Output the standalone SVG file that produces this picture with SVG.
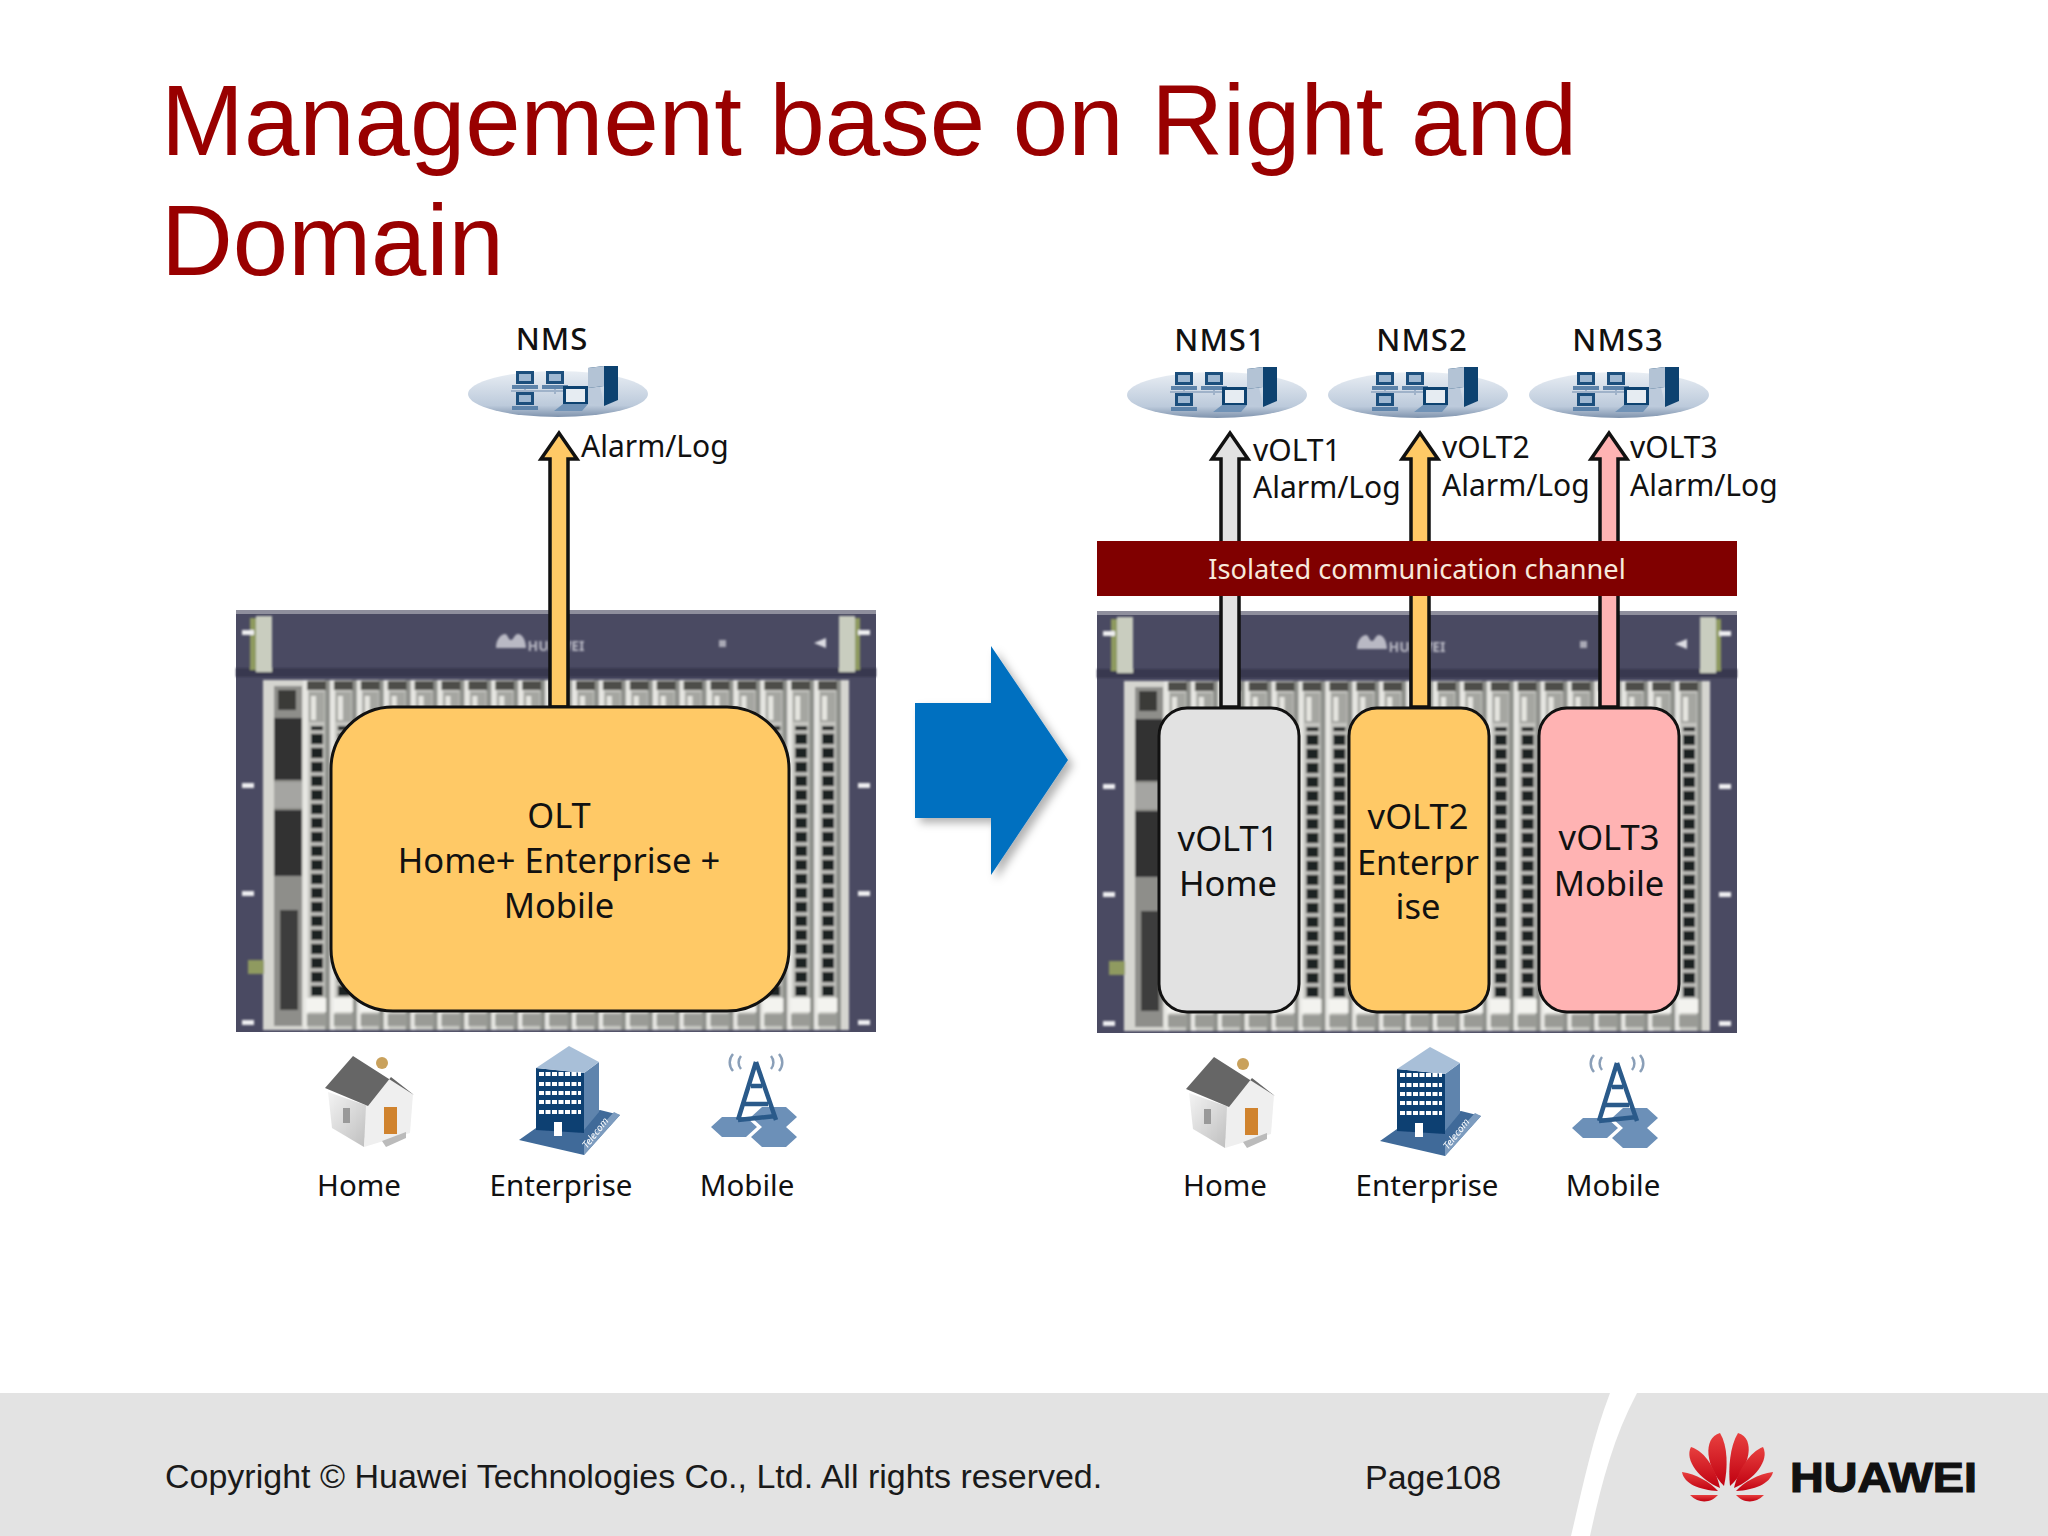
<svg xmlns="http://www.w3.org/2000/svg" xmlns:xlink="http://www.w3.org/1999/xlink" width="2048" height="1536" viewBox="0 0 2048 1536">
<style>
text{font-family:"Noto Sans","Open Sans","DejaVu Sans",sans-serif;fill:#111}
.title{font-family:"Liberation Sans",Arial,sans-serif;font-size:99.5px;fill:#990000}
.foot{font-family:"Liberation Sans",Arial,sans-serif;font-size:34px;fill:#1a1a1a}
.lbl{font-size:30px}
.nms{font-size:31px;font-weight:500;text-anchor:middle;letter-spacing:1px}
.cap{font-size:29.5px;text-anchor:middle}
.box{font-size:34.5px;text-anchor:middle}
.ar{stroke:#111;stroke-width:3.5;stroke-linejoin:miter}
.vbox{stroke:#111;stroke-width:3}
.org{fill:#FFC966}.gry{fill:#E2E2E2}.pnk{fill:#FFB3B3}
</style>
<defs>
<filter id="soft" x="-5%" y="-5%" width="110%" height="110%"><feGaussianBlur stdDeviation="1.3"/></filter>
<filter id="soft2" x="-10%" y="-10%" width="120%" height="120%"><feGaussianBlur stdDeviation="0.5"/></filter>
<filter id="shadow" x="-10%" y="-10%" width="130%" height="130%"><feDropShadow dx="5" dy="5" stdDeviation="4" flood-color="#000" flood-opacity="0.3"/></filter>
<linearGradient id="disc" x1="0" y1="0" x2="0" y2="1"><stop offset="0" stop-color="#e9eef4"/><stop offset="0.75" stop-color="#bccadb"/><stop offset="1" stop-color="#7f93ad"/></linearGradient>
<linearGradient id="petal" x1="0" y1="0" x2="0" y2="1"><stop offset="0" stop-color="#e8403f"/><stop offset="1" stop-color="#c00010"/></linearGradient>
<linearGradient id="wall" x1="0" y1="0" x2="1" y2="1"><stop offset="0" stop-color="#f4f4f4"/><stop offset="1" stop-color="#bdbdbd"/></linearGradient>
<pattern id="cards" width="26.9" height="350" patternUnits="userSpaceOnUse" x="67" y="70">
<rect width="26.9" height="350" fill="#c4c5c0"/>
<rect x="0" y="0" width="5" height="350" fill="#e6e6e2"/>
<rect x="22" y="0" width="5" height="350" fill="#8f918c"/>
<rect x="4" y="1" width="19" height="9" fill="#4d4e48"/>
<rect x="6" y="12" width="15" height="30" fill="#a5a6a1"/>
<rect x="8" y="16" width="5" height="24" fill="#e5e5e0"/>
<rect x="3" y="318" width="20" height="14" fill="#f3f3ef"/>
<rect x="4" y="334" width="19" height="12" fill="#9a9b96"/>
<rect x="8" y="46" width="12" height="270" fill="#1f2020"/>
<path d="M6 52H22M6 66H22M6 80H22M6 94H22M6 108H22M6 122H22M6 136H22M6 150H22M6 164H22M6 178H22M6 192H22M6 206H22M6 220H22M6 234H22M6 248H22M6 262H22M6 276H22M6 290H22M6 304H22" stroke="#c4c4bf" stroke-width="3.5"/>
</pattern>
<g id="chassis">
<rect width="640" height="422" fill="#4a4a62"/>
<rect x="0" y="0" width="640" height="4" fill="#8f8f9d"/>
<g filter="url(#soft)">
<rect y="58" width="640" height="9" fill="#383850"/>
<rect x="20" y="6" width="16" height="56" fill="#c9cdbf"/><rect x="14" y="8" width="6" height="52" fill="#8e9a5e"/>
<rect x="603" y="6" width="16" height="56" fill="#c9cdbf"/><rect x="619" y="8" width="5" height="52" fill="#8e9a5e"/>
<rect x="27" y="70" width="586" height="350" fill="#d5d5d0"/>
<rect x="67" y="70" width="538" height="350" fill="url(#cards)"/>
<rect x="38" y="76" width="28" height="340" fill="#8e8e8a"/>
<rect x="42" y="80" width="18" height="20" fill="#3a3a38"/>
<rect x="38" y="108" width="28" height="62" fill="#333"/>
<rect x="38" y="200" width="28" height="66" fill="#333"/>
<rect x="38" y="172" width="28" height="26" fill="#a5a5a2"/>
<rect x="44" y="300" width="18" height="100" fill="#3c3c3c"/>
<rect x="12" y="350" width="16" height="14" fill="#8f9a60"/>
<g fill="#eeeef0"><rect x="6" y="20" width="12" height="5"/><rect x="6" y="173" width="12" height="5"/><rect x="6" y="281" width="12" height="5"/><rect x="6" y="410" width="12" height="5"/><rect x="622" y="20" width="12" height="5"/><rect x="622" y="173" width="12" height="5"/><rect x="622" y="281" width="12" height="5"/><rect x="622" y="410" width="12" height="5"/></g>
<text x="320" y="41" font-size="14" font-weight="700" text-anchor="middle" style="fill:#b9b9c4">HUAWEI</text>
<path d="M260 38c0-10 6-14 9-14s3 6 6 6 3-6 7-6 8 6 8 14z" fill="#b9b9c4"/>
<rect x="483" y="30" width="7" height="7" fill="#a9a9b5"/><path d="M578 33l12-5v10z" fill="#dcdce2"/>
</g>
</g>
<g id="disc-icon">
<ellipse cx="0" cy="2" rx="90" ry="23" fill="url(#disc)"/>
<g filter="url(#soft2)">
<path d="M-47-1H15M-33-5V2M-3-5V2" stroke="#9fb2c9" stroke-width="2"/>
<g fill="#1f4f7d"><rect x="-42" y="-21" width="18" height="13"/><rect x="-12" y="-21" width="18" height="13"/><rect x="-42" y="0" width="18" height="13"/></g>
<g fill="#9fb8d2"><rect x="-39" y="-18" width="12" height="7"/><rect x="-9" y="-18" width="12" height="7"/><rect x="-39" y="3" width="12" height="7"/></g>
<g fill="#5d83aa"><rect x="-46" y="-7" width="26" height="4"/><rect x="-16" y="-7" width="26" height="4"/><rect x="-46" y="14" width="26" height="4"/></g>
<path d="M5 -6H30V12H5z" fill="#0f426f"/><path d="M8 -3H27V10H8z" fill="#e6ecf2"/><path d="M-4 19L5 12H30L24 19z" fill="#6f92b6"/>
<path d="M30 12V-4L42 -6L46 13z" fill="#bccadb"/><path d="M30-24L46-26H60L60 8L46 14V-6L30-4z" fill="#0f426f"/><path d="M30-24L46-26V-6L30-4z" fill="#b3c3d5"/>
</g>
</g>
<g id="clients">
<g id="house" filter="url(#soft2)">
<circle cx="382" cy="1063" r="6" fill="#c9a15c"/>
<path d="M328 1092L368 1106L364 1147L332 1128z" fill="url(#wall)"/>
<path d="M366 1106L390 1078L413 1094L410 1133L364 1147z" fill="#efefef"/>
<path d="M325 1088L353 1056L414 1095L391 1077L368 1106z" fill="#666"/>
<rect x="384" y="1107" width="13" height="27" fill="#d0832f"/>
<rect x="343" y="1108" width="7" height="15" fill="#999"/>
<path d="M382 1141l24-9v6l-20 9z" fill="#bbb"/>
</g>
<g id="building" filter="url(#soft2)">
<path d="M519 1140L536 1128L600 1110L620 1115L584 1155z" fill="#3f6a99"/>
<path d="M584 1155L620 1115L614 1112L584 1145z" fill="#7d9cbf"/>
<path d="M536 1068V1130L584 1133V1073z" fill="#103f72"/>
<path d="M584 1073L599 1062V1112L584 1130z" fill="#5e84ad"/>
<path d="M536 1068L569 1046L599 1062L584 1073z" fill="#a8bfd8"/>
<path d="M539 1074H581M539 1084H581M539 1093H581M539 1102H581M539 1112H581" stroke="#fff" stroke-width="4" stroke-dasharray="5 1.5"/>
<rect x="554" y="1122" width="8" height="14" fill="#fff"/>
<text transform="translate(587 1149) rotate(-52)" font-size="10" font-style="italic" style="fill:#fff">Telecom</text>
</g>
<g id="tower" filter="url(#soft2)">
<path d="M711 1127l11-10h24l11 10-11 10h-24z M751 1117l11-10h24l11 10-11 10h-24z M751 1137l11-10h24l11 10-11 10h-24z" fill="#6c90b8"/>
<path d="M756 1062L738 1120M756 1062L776 1120M744 1104H768M738 1120L776 1116M751 1086H762" stroke="#2a5a8a" stroke-width="4.5" fill="none"/>
<path d="M733 1054a16 14 0 0 0 0 17M741 1056a10 10 0 0 0 0 13M771 1056a10 10 0 0 1 0 13M779 1054a16 14 0 0 1 0 17" stroke="#8a9fb8" stroke-width="2.5" fill="none"/>
</g>
</g>
</defs>

<rect width="2048" height="1536" fill="#fff"/>
<text class="title" x="161" y="155">Management base on Right and</text>
<text class="title" x="161" y="275">Domain</text>

<g id="chassis-left"><use href="#chassis" x="236" y="610"/></g>
<g id="chassis-right"><use href="#chassis" x="1097" y="611"/></g>

<g id="connectors">
<path class="ar org" d="M550 707V459H541L559 433L577 459H568V707z"/>
<path class="ar gry" d="M1221 707V459H1212L1230 433L1248 459H1239V707z"/>
<path class="ar org" d="M1411 707V459H1402L1420 433L1438 459H1429V707z"/>
<path class="ar pnk" d="M1600 707V459H1591L1609 433L1627 459H1618V707z"/>
</g>

<g id="channel"><rect x="1097" y="541" width="640" height="55" fill="#800000"/><text x="1417" y="579" font-size="27.2" text-anchor="middle" style="fill:#f7e9dc">Isolated communication channel</text></g>

<g id="olt"><rect class="vbox org" x="331" y="707" width="458" height="304" rx="62"/>
<text class="box" x="559" y="828">OLT</text><text class="box" x="559" y="873">Home+ Enterprise +</text><text class="box" x="559" y="918">Mobile</text></g>
<g id="volt1"><rect class="vbox gry" x="1159" y="708" width="140" height="304" rx="28"/>
<text class="box" x="1228" y="851">vOLT1</text><text class="box" x="1228" y="896">Home</text></g>
<g id="volt2"><rect class="vbox org" x="1349" y="708" width="140" height="304" rx="28"/>
<text class="box" x="1418" y="829">vOLT2</text><text class="box" x="1418" y="875">Enterpr</text><text class="box" x="1418" y="919">ise</text></g>
<g id="volt3"><rect class="vbox pnk" x="1539" y="708" width="140" height="304" rx="28"/>
<text class="box" x="1609" y="850">vOLT3</text><text class="box" x="1609" y="896">Mobile</text></g>

<g id="nms"><use href="#disc-icon" x="558" y="392"/><text class="nms" x="552" y="350">NMS</text></g>
<g id="nms1"><use href="#disc-icon" x="1217" y="393"/><text class="nms" x="1220" y="351">NMS1</text></g>
<g id="nms2"><use href="#disc-icon" x="1418" y="393"/><text class="nms" x="1422" y="351">NMS2</text></g>
<g id="nms3"><use href="#disc-icon" x="1619" y="393"/><text class="nms" x="1618" y="351">NMS3</text></g>

<g id="labels">
<text class="lbl" x="581" y="457">Alarm/Log</text>
<text class="lbl" x="1253" y="461">vOLT1</text><text class="lbl" x="1253" y="498">Alarm/Log</text>
<text class="lbl" x="1442" y="458">vOLT2</text><text class="lbl" x="1442" y="496">Alarm/Log</text>
<text class="lbl" x="1630" y="458">vOLT3</text><text class="lbl" x="1630" y="496">Alarm/Log</text>
</g>

<g id="clients-left"><use href="#clients"/>
<text class="cap" x="359" y="1196">Home</text><text class="cap" x="561" y="1196">Enterprise</text><text class="cap" x="747" y="1196">Mobile</text></g>
<g id="clients-right"><use href="#clients" x="861" y="1"/>
<text class="cap" x="1225" y="1196">Home</text><text class="cap" x="1427" y="1196">Enterprise</text><text class="cap" x="1613" y="1196">Mobile</text></g>

<g id="big-arrow"><path d="M915 703H991V646L1068 760L991 875V818H915z" fill="#0070C0" filter="url(#shadow)"/></g>

<g id="footer">
<rect y="1393" width="2048" height="143" fill="#E3E3E3"/>
<path d="M1610 1393H1637C1612 1440 1600 1490 1590 1536H1571C1582 1490 1592 1440 1610 1393z" fill="#fff"/>
<text class="foot" x="165" y="1488">Copyright © Huawei Technologies Co., Ltd. All rights reserved.</text>
<text class="foot" x="1365" y="1489">Page108</text>
<g id="logo" fill="url(#petal)">
<path d="M1724 1486C1706 1468 1702 1438 1720 1433C1728 1446 1728 1468 1724 1486z"/>
<path d="M1730 1486C1728 1468 1730 1446 1738 1433C1756 1438 1750 1468 1730 1486z"/>
<path d="M1720 1488C1700 1480 1684 1460 1691 1447C1706 1452 1716 1470 1720 1488z"/>
<path d="M1734 1488C1738 1470 1750 1452 1763 1447C1770 1460 1754 1480 1734 1488z"/>
<path d="M1718 1491C1700 1490 1684 1484 1682 1472C1696 1474 1710 1482 1718 1491z"/>
<path d="M1736 1491C1744 1482 1758 1474 1773 1472C1770 1484 1754 1490 1736 1491z"/>
<path d="M1690 1495H1718C1712 1502 1700 1505 1690 1495z"/>
<path d="M1736 1495H1764C1754 1505 1742 1502 1736 1495z"/>
</g>
<text x="1790" y="1492" font-size="42" font-weight="700" textLength="187" lengthAdjust="spacingAndGlyphs" stroke="#111" stroke-width="1.2" style="font-family:'Liberation Sans',Arial,sans-serif">HUAWEI</text>
</g>
</svg>
